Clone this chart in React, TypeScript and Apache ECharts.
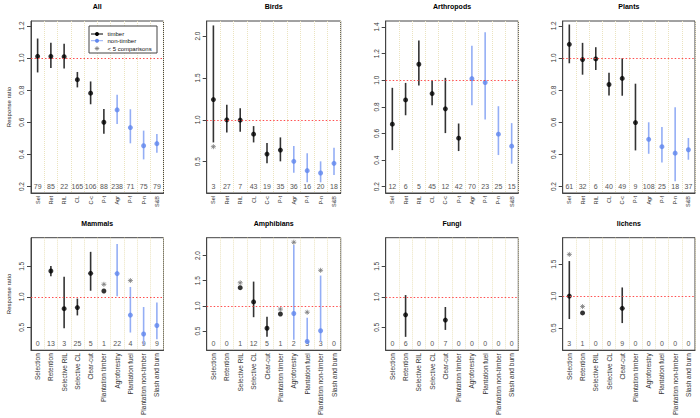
import React, { useEffect, useRef } from 'react';
import * as echarts from 'echarts';

const shortLabels = ['Sel', 'Ret', 'RIL', 'CL', 'C-c', 'P-t', 'Agr', 'P-f', 'P-n', 'S&B'];
const longLabels = ['Selection', 'Retention', 'Selective RIL', 'Selective CL', 'Clear-cut', 'Plantation timber', 'Agroforestry', 'Plantation fuel', 'Plantation non-timber', 'Slash and burn'];

const ticksA = [0.2, 0.4, 0.6, 0.8, 1.0, 1.2];
const ticksB = [0.5, 1.0, 1.5, 2.0];
const ticksC = [0.2, 0.4, 0.6, 0.8, 1.0, 1.2, 1.4];
const ticksD = [0.5, 1.0, 1.5];

const N = null;

const allMean = [1.01, 1.01, 1.008, 0.865, 0.781, 0.6, 0.677, 0.567, 0.454, 0.467];
const allLower = [0.91, 0.938, 0.935, 0.817, 0.712, 0.529, 0.59, 0.469, 0.369, 0.41];
const allUpper = [1.121, 1.094, 1.088, 0.913, 0.854, 0.683, 0.771, 0.681, 0.548, 0.527];
const allCount = [79, 85, 22, 165, 106, 88, 238, 71, 75, 79];
const allStar = [N, N, N, N, N, N, N, N, N, N];

const birdsMean = [1.242, 1.0, 0.996, 0.829, 0.591, 0.639, 0.504, 0.393, 0.365, 0.48];
const birdsLower = [0.73, 0.849, 0.857, 0.73, 0.48, 0.504, 0.369, 0.254, 0.254, 0.341];
const birdsUpper = [2.127, 1.179, 1.139, 0.925, 0.722, 0.79, 0.687, 0.6, 0.504, 0.667];
const birdsCount = [3, 27, 7, 43, 19, 35, 36, 16, 20, 18];
const birdsStar = [0.679, N, N, N, N, N, N, N, N, N];

const arthMean = [0.67, 0.852, 1.12, 0.9, 0.785, 0.565, 1.012, 0.983, 0.595, 0.505];
const arthLower = [0.475, 0.737, 0.96, 0.812, 0.603, 0.468, 0.812, 0.705, 0.438, 0.373];
const arthUpper = [0.943, 0.98, 1.298, 0.998, 1.018, 0.675, 1.26, 1.36, 0.805, 0.678];
const arthCount = [12, 6, 5, 45, 12, 42, 70, 23, 25, 15];
const arthStar = [N, N, N, N, N, N, N, N, N, N];

const plantsMean = [1.085, 0.99, 0.994, 0.835, 0.873, 0.598, 0.494, 0.448, 0.408, 0.429];
const plantsLower = [0.967, 0.896, 0.925, 0.767, 0.765, 0.425, 0.404, 0.35, 0.233, 0.367];
const plantsUpper = [1.208, 1.094, 1.067, 0.908, 0.998, 0.84, 0.6, 0.571, 0.694, 0.502];
const plantsCount = [61, 32, 6, 40, 49, 9, 108, 25, 18, 37];
const plantsStar = [N, N, N, N, N, N, N, N, N, N];

const mammMean = [N, 1.424, 0.805, 0.824, 1.386, 1.095, 1.381, 0.7, 0.39, 0.529];
const mammLower = [N, 1.338, 0.486, 0.695, 1.1, N, 1.01, 0.414, 0.21, 0.305];
const mammUpper = [N, 1.505, 1.329, 0.971, 1.738, N, 1.867, 1.162, 0.833, 0.905];
const mammCount = [0, 13, 3, 25, 5, 1, 22, 4, 9, 9];
const mammStar = [N, N, N, N, N, 1.205, N, 1.267, N, N];

const amphMean = [N, N, 1.362, 1.08, 0.557, 0.839, 0.85, 0.293, 0.506, N];
const amphLower = [N, N, N, 0.776, 0.385, N, 0.33, 0.28, 0.28, N];
const amphUpper = [N, N, N, 1.483, 0.787, N, 2.21, 0.764, 1.603, N];
const amphCount = [0, 0, 1, 12, 5, 1, 2, 3, 3, 0];
const amphStar = [N, N, 1.46, N, N, 0.937, 2.264, 0.874, 1.707, N];

const fungiMean = [N, 0.705, N, N, 0.619, N, N, N, N, N];
const fungiLower = [N, 0.343, N, N, 0.457, N, N, N, N, N];
const fungiUpper = [N, 1.029, N, N, 0.833, N, N, N, N, N];
const fungiCount = [0, 6, 0, 0, 7, 0, 0, 0, 0, 0];
const fungiStar = [N, N, N, N, N, N, N, N, N, N];

const lichMean = [1.0, 0.736, N, N, 0.809, N, N, N, N, N];
const lichLower = [0.64, N, N, N, 0.577, N, N, N, N, N];
const lichUpper = [1.55, N, N, N, 1.136, N, N, N, N, N];
const lichCount = [3, 1, 0, 0, 9, 0, 0, 0, 0, 0];
const lichStar = [1.655, 0.836, N, N, N, N, N, N, N, N];

const FONT = '"Liberation Sans", Arial, Helvetica, sans-serif';
const TIMBER_PT = '#000000';
const TIMBER_BAR = '#333333';
const NT_PT = '#5f86ee';
const NT_BAR = '#94aef5';
const STAR = '#7a7a7a';
const REF_LINE = '#ff3b3b';

const COLS = [
  { left: 31, width: 132.5 },
  { left: 206.7, width: 134 },
  { left: 385.7, width: 132.6 },
  { left: 562.7, width: 132.3 },
];
const ROWS = [
  { top: 21, height: 172, titleY: 6.5, xFont: 5.5 },
  { top: 237.7, height: 129.6, titleY: 223.3, xFont: 6.5 },
];

const panels = [
  { title: 'All', mean: allMean, lower: allLower, upper: allUpper, count: allCount, star: allStar, labels: shortLabels, min: 0.16, max: 1.23, ticks: ticksA, col: 0, row: 0 },
  { title: 'Birds', mean: birdsMean, lower: birdsLower, upper: birdsUpper, count: birdsCount, star: birdsStar, labels: shortLabels, min: 0.126, max: 2.18, ticks: ticksB, col: 1, row: 0 },
  { title: 'Arthropods', mean: arthMean, lower: arthLower, upper: arthUpper, count: arthCount, star: arthStar, labels: shortLabels, min: 0.153, max: 1.445, ticks: ticksC, col: 2, row: 0 },
  { title: 'Plants', mean: plantsMean, lower: plantsLower, upper: plantsUpper, count: plantsCount, star: plantsStar, labels: shortLabels, min: 0.16, max: 1.23, ticks: ticksA, col: 3, row: 0 },
  { title: 'Mammals', mean: mammMean, lower: mammLower, upper: mammUpper, count: mammCount, star: mammStar, labels: longLabels, min: 0.124, max: 1.97, ticks: ticksD, col: 0, row: 1 },
  { title: 'Amphibians', mean: amphMean, lower: amphLower, upper: amphUpper, count: amphCount, star: amphStar, labels: longLabels, min: 0.12, max: 2.355, ticks: ticksB, col: 1, row: 1 },
  { title: 'Fungi', mean: fungiMean, lower: fungiLower, upper: fungiUpper, count: fungiCount, star: fungiStar, labels: longLabels, min: 0.124, max: 1.97, ticks: ticksD, col: 2, row: 1 },
  { title: 'lichens', mean: lichMean, lower: lichLower, upper: lichUpper, count: lichCount, star: lichStar, labels: longLabels, min: 0.151, max: 1.917, ticks: ticksD, col: 3, row: 1 },
];

const STAR_PATH = 'path://M5,0L5,10M0,5L10,5M1.5,1.5L8.5,8.5M1.5,8.5L8.5,1.5';

function buildOption() {
  const grid: any[] = [];
  const xAxis: any[] = [];
  const yAxis: any[] = [];
  const series: any[] = [];
  const graphic: any[] = [];

  panels.forEach((p, i) => {
    const c = COLS[p.col];
    const r = ROWS[p.row];
    grid.push({
      left: c.left, top: r.top, width: c.width, height: r.height,
      show: true, borderColor: '#444', borderWidth: 1, backgroundColor: 'transparent',
      containLabel: false,
    });
    xAxis.push({
      gridIndex: i, type: 'category', data: p.labels, position: 'bottom', boundaryGap: true,
      axisLine: { show: true, lineStyle: { color: '#444', width: 1 } },
      axisTick: { show: false },
      axisLabel: { interval: 0, rotate: 90, fontSize: r.xFont, color: '#333', margin: 3, fontFamily: FONT },
      splitLine: { show: true, interval: 0, lineStyle: { color: '#ebe3bf', type: 'dotted', width: 1 } },
    });
    xAxis.push({
      gridIndex: i, type: 'category', data: p.count.map(String), position: 'bottom', boundaryGap: true,
      axisLine: { show: false }, axisTick: { show: false },
      axisLabel: { inside: true, interval: 0, fontSize: 7, color: '#555', margin: 3, fontFamily: FONT },
      splitLine: { show: false },
    });
    yAxis.push({
      gridIndex: i, type: 'value', min: p.min, max: p.max,
      axisLine: { show: true, lineStyle: { color: '#444', width: 1 } },
      axisTick: { show: true, length: 4, lineStyle: { color: '#444' }, customValues: p.ticks },
      axisLabel: { customValues: p.ticks, rotate: 90, fontSize: 6.5, color: '#333', margin: 6, fontFamily: FONT, formatter: (v: number) => v.toFixed(1) },
      splitLine: { show: false },
      name: p.col === 0 ? 'Response ratio' : '',
      nameLocation: 'middle', nameGap: 19, nameRotate: 90,
      nameTextStyle: { fontSize: 6, color: '#222', fontFamily: FONT },
    });

    const barData: any[] = [];
    const ptData: any[] = [];
    const starData: any[] = [];
    for (let j = 0; j < p.mean.length; j++) {
      if (p.lower[j] != null && p.upper[j] != null) barData.push([j, p.lower[j], p.upper[j]]);
      if (p.mean[j] != null) ptData.push({ value: [j, p.mean[j]], itemStyle: { color: j < 6 ? TIMBER_PT : NT_PT } });
      if (p.star[j] != null) starData.push([j, p.star[j]]);
    }

    series.push({
      type: 'line', xAxisIndex: 2 * i, yAxisIndex: i, data: [],
      silent: true, z: 2, showSymbol: false,
      markLine: {
        silent: true, symbol: 'none', label: { show: false },
        lineStyle: { color: REF_LINE, type: [1.5, 2], width: 1, opacity: 0.9 },
        emphasis: { disabled: true },
        data: [{ yAxis: 1 }],
      },
    });
    series.push({
      type: 'custom', xAxisIndex: 2 * i, yAxisIndex: i, data: barData,
      encode: { x: 0, y: [1, 2] }, silent: true, z: 3,
      renderItem: (params: any, api: any) => {
        const x = api.value(0);
        const a = api.coord([x, api.value(1)]);
        const b = api.coord([x, api.value(2)]);
        return {
          type: 'line',
          shape: { x1: a[0], y1: a[1], x2: b[0], y2: b[1] },
          style: { stroke: x < 6 ? TIMBER_BAR : NT_BAR, lineWidth: 1.6 },
        };
      },
    });
    series.push({
      type: 'scatter', xAxisIndex: 2 * i, yAxisIndex: i, data: ptData,
      symbol: 'circle', symbolSize: 5, silent: true, z: 4,
    });
    series.push({
      type: 'scatter', xAxisIndex: 2 * i, yAxisIndex: i, data: starData,
      symbol: STAR_PATH, symbolSize: 5, silent: true, z: 4,
      itemStyle: { color: 'none', borderColor: STAR, borderWidth: 1 },
    });

    graphic.push({
      type: 'text', x: c.left + c.width / 2, y: r.titleY,
      style: { text: p.title, fontSize: 7, fontWeight: 'bold', fill: '#000', textAlign: 'center', textVerticalAlign: 'middle', fontFamily: FONT },
    });
  });

  // legend in the All panel
  const lx = 89, ly = 26;
  graphic.push({ type: 'rect', shape: { x: lx, y: ly, width: 68, height: 27 }, style: { fill: '#fff', stroke: '#444', lineWidth: 1 }, z: 10 });
  const rowsY = [34, 40.7, 48.5];
  graphic.push({ type: 'line', shape: { x1: 91, y1: rowsY[0], x2: 103, y2: rowsY[0] }, style: { stroke: '#000', lineWidth: 1 }, z: 11 });
  graphic.push({ type: 'circle', shape: { cx: 97, cy: rowsY[0], r: 2 }, style: { fill: '#000' }, z: 11 });
  graphic.push({ type: 'line', shape: { x1: 91, y1: rowsY[1], x2: 103, y2: rowsY[1] }, style: { stroke: NT_BAR, lineWidth: 1 }, z: 11 });
  graphic.push({ type: 'circle', shape: { cx: 97, cy: rowsY[1], r: 2 }, style: { fill: NT_PT }, z: 11 });
  const sx = 97, sy = rowsY[2], s = 2.3;
  graphic.push({ type: 'line', shape: { x1: sx - s, y1: sy, x2: sx + s, y2: sy }, style: { stroke: STAR, lineWidth: 0.8 }, z: 11 });
  graphic.push({ type: 'line', shape: { x1: sx, y1: sy - s, x2: sx, y2: sy + s }, style: { stroke: STAR, lineWidth: 0.8 }, z: 11 });
  graphic.push({ type: 'line', shape: { x1: sx - 1.6, y1: sy - 1.6, x2: sx + 1.6, y2: sy + 1.6 }, style: { stroke: STAR, lineWidth: 0.8 }, z: 11 });
  graphic.push({ type: 'line', shape: { x1: sx - 1.6, y1: sy + 1.6, x2: sx + 1.6, y2: sy - 1.6 }, style: { stroke: STAR, lineWidth: 0.8 }, z: 11 });
  const legTexts = ['timber', 'non-timber', '< 5 comparisons'];
  legTexts.forEach((t, k) => {
    graphic.push({ type: 'text', x: 107.5, y: rowsY[k], style: { text: t, fontSize: 6, fill: '#111', textVerticalAlign: 'middle', fontFamily: FONT }, z: 11 });
  });

  return {
    animation: false,
    backgroundColor: '#ffffff',
    textStyle: { fontFamily: FONT },
    grid, xAxis, yAxis, series, graphic,
  };
}

export default function App() {
  const ref = useRef<HTMLDivElement>(null);
  useEffect(() => {
    if (!ref.current) return;
    const chart = echarts.init(ref.current, undefined, { renderer: 'svg' });
    chart.setOption(buildOption() as any);
    return () => chart.dispose();
  }, []);
  return <div ref={ref} style={{ position: 'fixed', left: 0, top: 0, width: 700, height: 418 }} />;
}
